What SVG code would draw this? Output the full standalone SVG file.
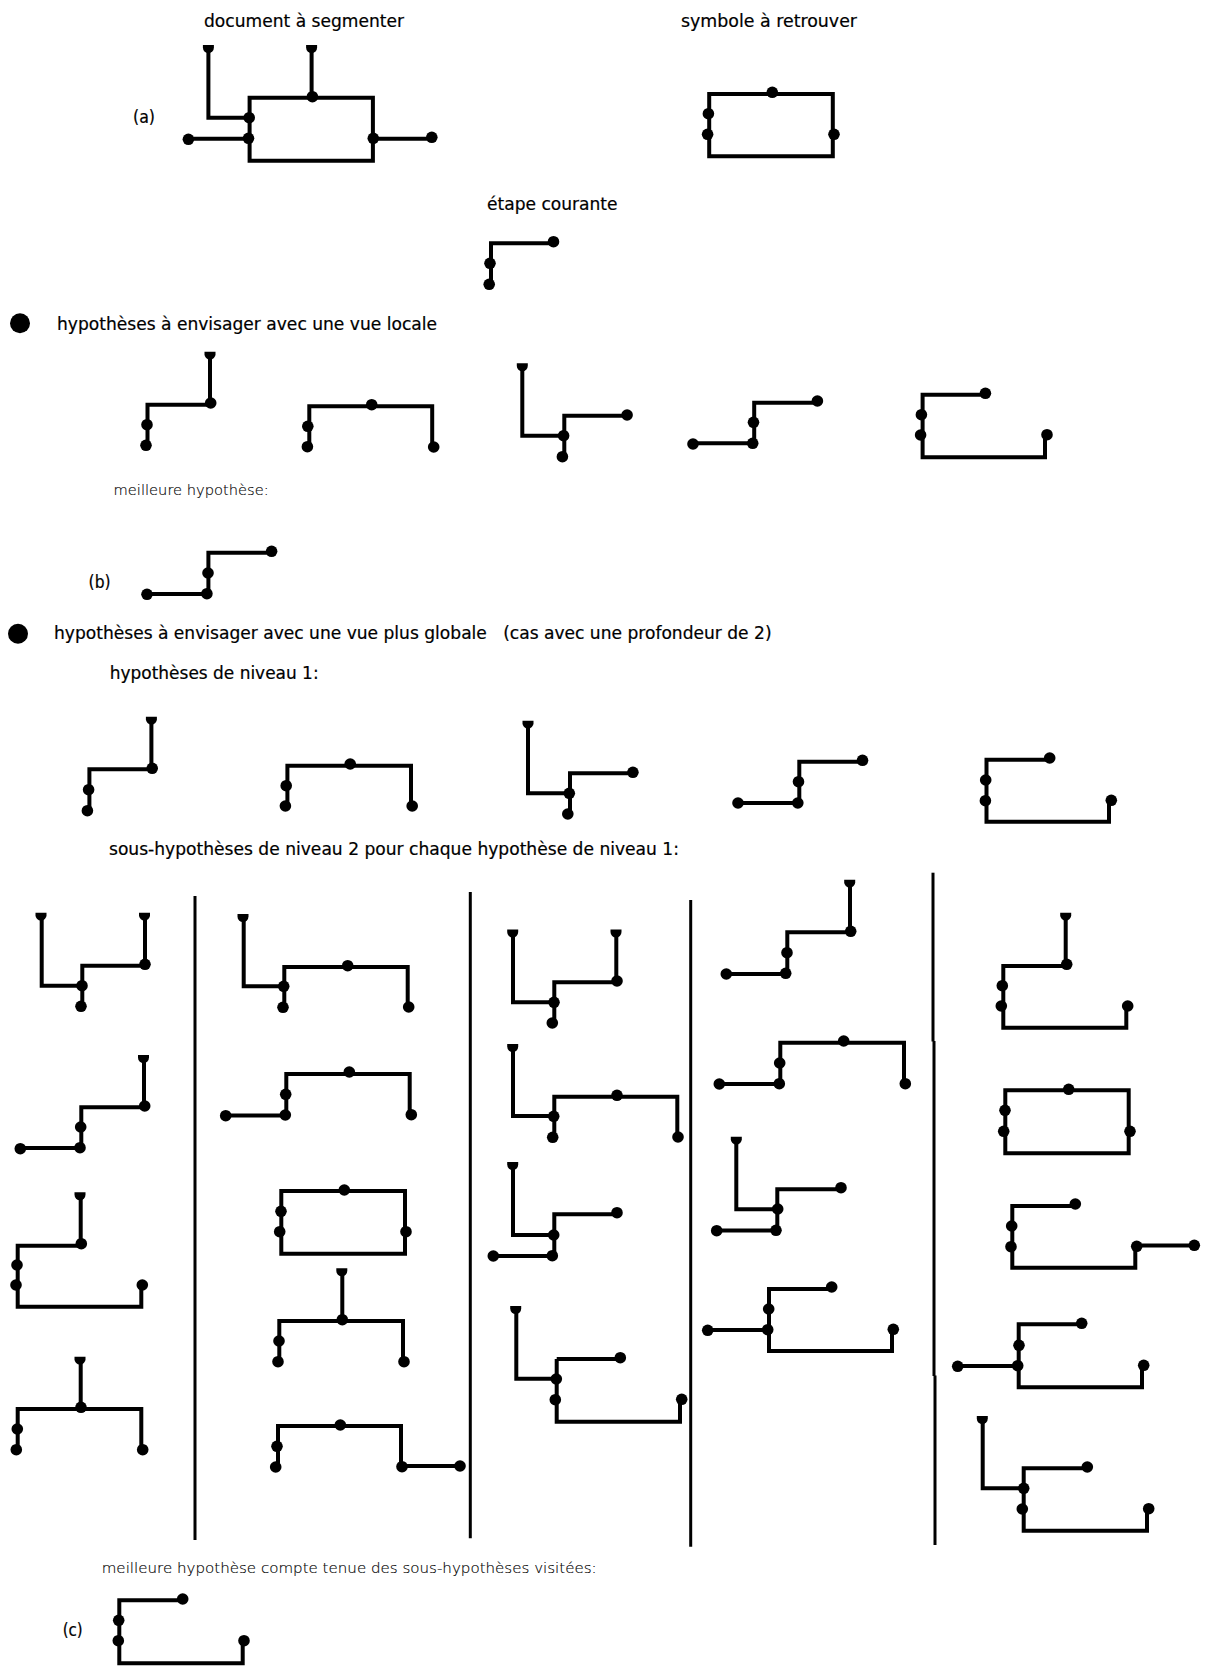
<svg xmlns="http://www.w3.org/2000/svg" width="1208" height="1675" viewBox="0 0 1208 1675">
<style>
text{font-family:"DejaVu Sans","Liberation Sans",sans-serif;font-size:16.8px;fill:#000;stroke:#000;stroke-width:.2px}
text.l{font-size:14px;font-weight:200;fill:#000;stroke:#000;stroke-width:.15px}
path.w{fill:none;stroke:#000;stroke-width:4;stroke-linejoin:miter;stroke-linecap:butt}
circle{fill:#000}
circle.d{r:5.800px}
line.s{stroke:#000;stroke-width:3}
</style>
<defs><path id="t" d="M-5.500,0H5.500V2.500A5.500,5.500 0 0 1 -5.500,2.500Z"/></defs>
<rect width="1208" height="1675" fill="#fff"/>
<g id="labels">
<text x="204" y="26.700" textLength="200" lengthAdjust="spacingAndGlyphs">document à segmenter</text>
<text x="681" y="26.700" textLength="176" lengthAdjust="spacingAndGlyphs">symbole à retrouver</text>
<text x="487" y="210" textLength="130.500" lengthAdjust="spacingAndGlyphs">étape courante</text>
<text x="133" y="123" textLength="22" lengthAdjust="spacingAndGlyphs">(a)</text>
<text x="57" y="330" textLength="380" lengthAdjust="spacingAndGlyphs">hypothèses à envisager avec une vue locale</text>
<text class="l" x="113.600" y="495" textLength="155" lengthAdjust="spacingAndGlyphs">meilleure hypothèse:</text>
<text x="88.600" y="588" textLength="22" lengthAdjust="spacingAndGlyphs">(b)</text>
<text x="54" y="639" textLength="717.600" lengthAdjust="spacingAndGlyphs" xml:space="preserve">hypothèses à envisager avec une vue plus globale   (cas avec une profondeur de 2)</text>
<text x="109.800" y="679" textLength="208.800" lengthAdjust="spacingAndGlyphs">hypothèses de niveau 1:</text>
<text x="109" y="855" textLength="570" lengthAdjust="spacingAndGlyphs">sous-hypothèses de niveau 2 pour chaque hypothèse de niveau 1:</text>
<text class="l" x="101.700" y="1573.300" textLength="495" lengthAdjust="spacingAndGlyphs">meilleure hypothèse compte tenue des sous-hypothèses visitées:</text>
<text x="62.700" y="1635.700" textLength="20" lengthAdjust="spacingAndGlyphs">(c)</text>
<circle cx="20" cy="323.300" r="10"/>
<circle cx="18" cy="633.700" r="10"/>
</g>
<g id="separators">
<line class="s" x1="195" y1="896" x2="195" y2="1540"/>
<line class="s" x1="470.300" y1="892" x2="470.300" y2="1538.300"/>
<line class="s" x1="690.700" y1="900" x2="690.700" y2="1546.700"/>
<line class="s" x1="933" y1="872.700" x2="933" y2="1041.500"/>
<line class="s" x1="934" y1="1041" x2="934" y2="1376"/>
<line class="s" x1="935" y1="1375.500" x2="935" y2="1545"/>
</g>
<g id="document">
<path class="w" d="M249.600,97.700H372.900V160.700H249.600ZM208.400,48V117.700H249.200M188.400,138.700H249M373,138.700H431.800M311.600,48V97"/>
<use href="#t" x="208.400" y="45"/><use href="#t" x="311.600" y="45"/>
<circle class="d" cx="249.200" cy="117.700"/><circle class="d" cx="312.400" cy="96.700"/><circle class="d" cx="248.500" cy="138.300"/><circle class="d" cx="188.400" cy="139.300"/><circle class="d" cx="373.300" cy="138.300"/><circle class="d" cx="431.800" cy="137.300"/>
</g>
<g id="symbole">
<path class="w" d="M709.200,94H832.800V156.300H709.200Z"/>
<circle class="d" cx="772.300" cy="92.300"/><circle class="d" cx="708.400" cy="113.700"/><circle class="d" cx="707.600" cy="134.300"/><circle class="d" cx="834" cy="134.300"/>
</g>
<g id="etape">
<path class="w" d="M553.500,243.300H491V284"/>
<circle class="d" cx="553.500" cy="241.700"/><circle class="d" cx="490" cy="263.300"/><circle class="d" cx="489.200" cy="284.300"/>
</g>
<g id="h1">
<path class="w" d="M210,354V403M210,404.700H147.500V445"/><use href="#t" x="210" y="351.700"/>
<circle class="d" cx="210.700" cy="403"/><circle class="d" cx="147" cy="424.700"/><circle class="d" cx="146" cy="445.300"/>
</g>
<g id="h2">
<path class="w" d="M309.300,446V406.300H432.200V446"/>
<circle class="d" cx="371.700" cy="404.700"/><circle class="d" cx="307.800" cy="426.300"/><circle class="d" cx="307.400" cy="446.700"/><circle class="d" cx="433.700" cy="447"/>
</g>
<g id="h3">
<path class="w" d="M522.300,366V435.700H564.300M564.300,456V415.700H627"/><use href="#t" x="522.300" y="363.300"/>
<circle class="d" cx="563.600" cy="435.700"/><circle class="d" cx="562.400" cy="456.700"/><circle class="d" cx="627.100" cy="415"/>
</g>
<g id="h4">
<path class="w" d="M693,443.300H754.200V402.700H817"/>
<circle class="d" cx="693" cy="444"/><circle class="d" cx="752.700" cy="443.300"/><circle class="d" cx="753.500" cy="422.300"/><circle class="d" cx="817.400" cy="401"/>
</g>
<g id="h5">
<path class="w" d="M985,394.700H922.600V457.300H1045V435"/>
<circle class="d" cx="985.400" cy="393.300"/><circle class="d" cx="921.400" cy="414.700"/><circle class="d" cx="920.600" cy="435"/><circle class="d" cx="1047" cy="434.700"/>
</g>
<g id="best-b">
<path class="w" d="M147,594H208.400V552.700H271"/>
<circle class="d" cx="147" cy="594.300"/><circle class="d" cx="206.900" cy="593.700"/><circle class="d" cx="208" cy="573"/><circle class="d" cx="271.600" cy="551.300"/>
</g>
<g id="l1">
<path class="w" d="M151.400,719V768M152,769.300H89.400V810"/><use href="#t" x="151.400" y="716.700"/>
<circle class="d" cx="152.200" cy="768.300"/><circle class="d" cx="88.600" cy="789.700"/><circle class="d" cx="87.400" cy="810.700"/>
</g>
<g id="l2">
<path class="w" d="M287.400,806V765.700H411V806"/>
<circle class="d" cx="350.200" cy="764"/><circle class="d" cx="286.200" cy="785.700"/><circle class="d" cx="285.400" cy="806"/><circle class="d" cx="412.200" cy="806"/>
</g>
<g id="l3">
<path class="w" d="M528,723V793.300H570M570,814V773.300H632"/><use href="#t" x="528" y="720.700"/>
<circle class="d" cx="569.300" cy="793.300"/><circle class="d" cx="567.800" cy="814"/><circle class="d" cx="632.900" cy="772.300"/>
</g>
<g id="l4">
<path class="w" d="M738,803H799.300V761.700H862"/>
<circle class="d" cx="738" cy="803"/><circle class="d" cx="797.800" cy="803"/><circle class="d" cx="798.500" cy="781.700"/><circle class="d" cx="862.500" cy="760.300"/>
</g>
<g id="l5">
<path class="w" d="M1049,759.700H986.500V821.700H1109V800"/>
<circle class="d" cx="1049.700" cy="758"/><circle class="d" cx="985.700" cy="780"/><circle class="d" cx="985.400" cy="800.700"/><circle class="d" cx="1111.300" cy="800.300"/>
</g>
<g id="s11">
<path class="w" d="M41.700,915V985.700H82.300M82.300,1006V965.700H145V915"/><use href="#t" x="41" y="912.700"/><use href="#t" x="144.500" y="912.700"/>
<circle class="d" cx="82" cy="985.700"/><circle class="d" cx="81" cy="1006.300"/><circle class="d" cx="145" cy="964.300"/>
</g>
<g id="s12">
<path class="w" d="M144,1057V1107.300H81.300V1148H20"/><use href="#t" x="143.500" y="1055"/>
<circle class="d" cx="144.700" cy="1106"/><circle class="d" cx="80.700" cy="1127"/><circle class="d" cx="80" cy="1147.700"/><circle class="d" cx="20.300" cy="1148.700"/>
</g>
<g id="s13">
<path class="w" d="M80.700,1194V1245.700H17.700V1306.700H141.300V1285"/><use href="#t" x="80" y="1192.300"/>
<circle class="d" cx="81.300" cy="1243.700"/><circle class="d" cx="17" cy="1265"/><circle class="d" cx="16" cy="1285"/><circle class="d" cx="142.300" cy="1285"/>
</g>
<g id="s14">
<path class="w" d="M80.700,1359V1408M17.700,1449V1409H141.300V1449"/><use href="#t" x="80" y="1356.700"/>
<circle class="d" cx="81" cy="1407.300"/><circle class="d" cx="17.300" cy="1429"/><circle class="d" cx="16.300" cy="1449.700"/><circle class="d" cx="142.700" cy="1449.700"/>
</g>
<g id="s21">
<path class="w" d="M243.700,916V986.300H284.300M284.300,1007V967H407.700V1007"/><use href="#t" x="243" y="914"/>
<circle class="d" cx="283.700" cy="986.300"/><circle class="d" cx="347.700" cy="965.700"/><circle class="d" cx="283" cy="1007.300"/><circle class="d" cx="408.700" cy="1007"/>
</g>
<g id="s22">
<path class="w" d="M225.700,1115.500H286.300V1074H409.700V1114"/>
<circle class="d" cx="349.300" cy="1072"/><circle class="d" cx="285.700" cy="1094.300"/><circle class="d" cx="285.300" cy="1115"/><circle class="d" cx="225.700" cy="1115.700"/><circle class="d" cx="411.300" cy="1114.700"/>
</g>
<g id="s23">
<path class="w" d="M281.300,1191H405V1253.700H281.300Z"/>
<circle class="d" cx="344.300" cy="1190"/><circle class="d" cx="281" cy="1211.300"/><circle class="d" cx="279.700" cy="1231.700"/><circle class="d" cx="406" cy="1231.700"/>
</g>
<g id="s24">
<path class="w" d="M342.300,1271V1320M279.300,1361V1321H403V1361"/><use href="#t" x="341.800" y="1268.300"/>
<circle class="d" cx="342.300" cy="1319.700"/><circle class="d" cx="279" cy="1341"/><circle class="d" cx="278" cy="1361.700"/><circle class="d" cx="404" cy="1361.700"/>
</g>
<g id="s25">
<path class="w" d="M278,1467V1426H401V1466H460"/>
<circle class="d" cx="340.300" cy="1425"/><circle class="d" cx="277" cy="1446.300"/><circle class="d" cx="275.700" cy="1467"/><circle class="d" cx="402" cy="1466.700"/><circle class="d" cx="460" cy="1466"/>
</g>
<g id="s31">
<path class="w" d="M513,932V1002.300H554.300M554.300,1023V982.300H616.300V932"/><use href="#t" x="512.700" y="929.500"/><use href="#t" x="616" y="929.500"/>
<circle class="d" cx="554" cy="1002.300"/><circle class="d" cx="617" cy="981"/><circle class="d" cx="552.300" cy="1023"/>
</g>
<g id="s32">
<path class="w" d="M513,1046V1116H554.300M554.300,1137V1096.700H677.300V1137"/><use href="#t" x="512.700" y="1044"/>
<circle class="d" cx="553.700" cy="1116.300"/><circle class="d" cx="617" cy="1095.300"/><circle class="d" cx="552.700" cy="1137.300"/><circle class="d" cx="678" cy="1137"/>
</g>
<g id="s33">
<path class="w" d="M513,1164V1235H554.300M493,1256H554.300V1214.300H617"/><use href="#t" x="512.700" y="1162"/>
<circle class="d" cx="553.700" cy="1235"/><circle class="d" cx="617" cy="1212.700"/><circle class="d" cx="552.300" cy="1255.700"/><circle class="d" cx="493.300" cy="1256"/>
</g>
<g id="s34">
<path class="w" d="M516.300,1308V1378.700H556.700M556.700,1359H620M556.700,1359V1421.700H680V1399"/><use href="#t" x="515.700" y="1306"/>
<circle class="d" cx="556.300" cy="1379"/><circle class="d" cx="620.300" cy="1357.700"/><circle class="d" cx="555.300" cy="1399.700"/><circle class="d" cx="681.700" cy="1399.300"/>
</g>
<g id="s41">
<path class="w" d="M850,882V931M850,932.300H787.300V974H726"/><use href="#t" x="849.700" y="879.700"/>
<circle class="d" cx="850.700" cy="931.300"/><circle class="d" cx="787" cy="952.700"/><circle class="d" cx="785.700" cy="973.300"/><circle class="d" cx="726.300" cy="974"/>
</g>
<g id="s42">
<path class="w" d="M719.300,1084H780.300V1042.700H904V1083"/>
<circle class="d" cx="843.700" cy="1041"/><circle class="d" cx="779.700" cy="1063"/><circle class="d" cx="779.300" cy="1083.700"/><circle class="d" cx="719.300" cy="1084"/><circle class="d" cx="905.300" cy="1083.700"/>
</g>
<g id="s43">
<path class="w" d="M736.300,1139V1209.300H777.300M841,1189.300H777.300V1230.500H716.700"/><use href="#t" x="736.300" y="1136.700"/>
<circle class="d" cx="777.700" cy="1209"/><circle class="d" cx="841" cy="1187.700"/><circle class="d" cx="776" cy="1230.300"/><circle class="d" cx="716.700" cy="1230.700"/>
</g>
<g id="s44">
<path class="w" d="M831,1289H769V1351H892V1329M707.700,1330H769"/>
<circle class="d" cx="831.700" cy="1287"/><circle class="d" cx="768.700" cy="1309"/><circle class="d" cx="767.700" cy="1329.700"/><circle class="d" cx="707.700" cy="1330.300"/><circle class="d" cx="893.300" cy="1329.300"/>
</g>
<g id="s51">
<path class="w" d="M1065.700,915V965M1066,966H1003.300V1027.700H1126.300V1006"/><use href="#t" x="1065.700" y="912.700"/>
<circle class="d" cx="1066.700" cy="964.300"/><circle class="d" cx="1002.300" cy="985.700"/><circle class="d" cx="1001.300" cy="1006"/><circle class="d" cx="1127.700" cy="1006"/>
</g>
<g id="s52">
<path class="w" d="M1005.300,1090.300H1128.700V1153.300H1005.300Z"/>
<circle class="d" cx="1068.700" cy="1089.300"/><circle class="d" cx="1005" cy="1110.300"/><circle class="d" cx="1003.700" cy="1131.300"/><circle class="d" cx="1130" cy="1131.300"/>
</g>
<g id="s53">
<path class="w" d="M1075,1206H1012.300V1267.700H1135.300V1245.500H1194"/>
<circle class="d" cx="1075.300" cy="1204"/><circle class="d" cx="1011.700" cy="1226"/><circle class="d" cx="1011" cy="1246.700"/><circle class="d" cx="1136.700" cy="1246.300"/><circle class="d" cx="1194.300" cy="1245.300"/>
</g>
<g id="s54">
<path class="w" d="M1081,1324.300H1018.700V1387.300H1142V1365M957.700,1366H1018.700"/>
<circle class="d" cx="1081.700" cy="1323.300"/><circle class="d" cx="1019" cy="1345.300"/><circle class="d" cx="1017.700" cy="1365.700"/><circle class="d" cx="957.700" cy="1366.300"/><circle class="d" cx="1143.700" cy="1365.300"/>
</g>
<g id="s55">
<path class="w" d="M982.700,1418V1488.300H1023.700M1087,1468.300H1023.700V1530.700H1147V1509"/><use href="#t" x="982.300" y="1416"/>
<circle class="d" cx="1023.700" cy="1488.300"/><circle class="d" cx="1087.300" cy="1467"/><circle class="d" cx="1022.300" cy="1509"/><circle class="d" cx="1148.700" cy="1508.700"/>
</g>
<g id="best-c">
<path class="w" d="M182,1600.300H119.300V1663.300H242.700V1641"/>
<circle class="d" cx="182.700" cy="1599"/><circle class="d" cx="118.700" cy="1620.300"/><circle class="d" cx="118.300" cy="1640.700"/><circle class="d" cx="244" cy="1640.700"/>
</g>
</svg>
